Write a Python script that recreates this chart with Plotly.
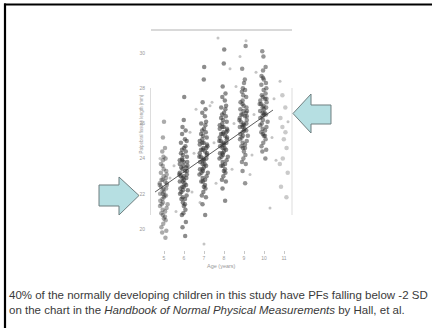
import plotly.graph_objects as go

# ---------------- data ----------------
ages = [5, 6, 7, 8, 9, 10, 11]
pf_age5 = [22.1, 21.4, 23.0, 20.6, 22.8, 24.1, 21.9, 22.5, 19.8, 23.4, 22.0, 21.2, 20.9, 23.7, 22.6,
           21.7, 24.6, 22.3, 20.3, 21.5, 23.1, 22.9, 19.5, 21.0, 22.4, 25.2, 21.8, 23.3, 20.7, 22.2,
           24.0, 21.3, 22.7, 20.1, 23.6, 21.6, 22.0, 26.1, 20.5, 22.5, 23.9, 21.1, 22.8, 19.9, 21.9,
           24.4, 22.3, 20.8, 23.2, 21.4, 22.6]
pf_age6 = [23.1, 22.4, 24.0, 21.7, 23.8, 25.1, 22.9, 23.5, 20.8, 24.4, 23.0, 22.2, 21.9, 24.7, 23.6,
           22.7, 25.6, 23.3, 21.3, 22.5, 24.1, 23.9, 20.4, 22.0, 23.4, 26.2, 22.8, 24.3, 21.7, 23.2,
           25.0, 22.3, 23.7, 21.1, 24.6, 22.6, 23.0, 27.5, 21.5, 23.5, 24.9, 22.1, 23.8, 20.9, 22.9,
           25.4, 23.3, 21.8, 24.2, 22.4, 23.6, 19.6, 23.1, 22.7, 24.5, 21.4, 23.9, 22.2, 25.8, 20.1]
pf_age7 = [24.1, 23.4, 25.0, 22.7, 24.8, 26.1, 23.9, 24.5, 21.8, 25.4, 24.0, 23.2, 22.9, 25.7, 24.6,
           23.7, 26.6, 24.3, 22.3, 23.5, 25.1, 24.9, 21.4, 23.0, 24.4, 27.2, 23.8, 25.3, 22.7, 24.2,
           26.0, 23.3, 24.7, 22.1, 25.6, 23.6, 24.0, 28.5, 22.5, 24.5, 25.9, 23.1, 24.8, 21.9, 23.9,
           26.4, 24.3, 22.8, 25.2, 23.4, 24.6, 20.8, 24.1, 23.7, 25.5, 22.4, 24.9, 23.2, 26.8, 29.2]
pf_age8 = [25.0, 24.3, 25.9, 23.6, 25.7, 27.0, 24.8, 25.4, 22.7, 26.3, 24.9, 24.1, 23.8, 26.6, 25.5,
           24.6, 27.5, 25.2, 23.2, 24.4, 26.0, 25.8, 22.3, 23.9, 25.3, 28.1, 24.7, 26.2, 23.6, 25.1,
           26.9, 24.2, 25.6, 23.0, 26.5, 24.5, 24.9, 29.4, 23.4, 25.4, 26.8, 24.0, 25.7, 22.8, 24.8,
           27.3, 25.2, 23.7, 26.1, 24.3, 25.5, 21.6, 25.0, 24.6, 26.4, 23.3, 25.8, 24.1, 27.7, 30.2]
pf_age9 = [26.0, 25.3, 26.9, 24.6, 26.7, 28.0, 25.8, 26.4, 23.7, 27.3, 25.9, 25.1, 24.8, 27.6, 26.5,
           25.6, 28.5, 26.2, 24.2, 25.4, 27.0, 26.8, 23.3, 24.9, 26.3, 29.1, 25.7, 27.2, 24.6, 26.1,
           27.9, 25.2, 26.6, 24.0, 27.5, 25.5, 25.9, 30.4, 24.4, 26.4, 27.8, 25.0, 26.7, 23.8, 25.8,
           28.3, 26.2, 24.7, 27.1, 25.3, 26.5, 22.6, 26.0, 25.6]
pf_age10 = [26.7, 26.0, 27.6, 25.3, 27.4, 28.7, 26.5, 27.1, 24.4, 28.0, 26.6, 25.8, 25.5, 28.3, 27.2,
            26.3, 29.2, 26.9, 24.9, 26.1, 27.7, 27.5, 24.0, 25.6, 27.0, 29.8, 26.4, 27.9, 25.3, 26.8,
            28.6, 25.9, 27.3, 24.7, 28.2, 26.2, 26.6, 30.1, 25.1, 27.1, 28.5, 25.7, 27.4, 24.5, 26.5,
            29.0, 26.9, 25.4]
pf_age11 = [25.8, 24.6, 26.9, 23.2, 25.1, 27.6, 22.4, 24.0, 26.3, 23.7, 25.5, 21.8]
pf_by_age = [pf_age5, pf_age6, pf_age7, pf_age8, pf_age9, pf_age10, pf_age11]
col_alpha = [0.40, 0.55, 0.55, 0.55, 0.50, 0.50, 0.25]

# scattered children whose ages fall between the year columns
extra_age = [5.5, 5.6, 6.5, 6.4, 6.6, 7.5, 7.4, 7.6, 8.5, 8.4, 8.6, 9.5, 9.4, 9.6, 10.5, 10.4, 10.6,
             6.3, 7.3, 8.3, 9.3, 10.3, 7.7, 9.1, 7.0, 4.8, 5.3, 10.8, 11.2, 6.8, 8.8]
extra_pf = [23.6, 21.0, 24.3, 22.1, 26.8, 24.9, 27.2, 22.6, 26.0, 23.4, 28.1, 26.5, 24.2, 28.9, 27.4,
            25.2, 23.9, 25.5, 27.0, 29.1, 23.1, 21.2, 30.85, 30.7, 19.15, 24.0, 22.9, 28.4, 26.1, 21.5,
            29.8]

trend_age = [4.55, 10.45]
trend_pf = [22.10, 26.76]

tick_ages = [5, 6, 7, 8, 9, 10, 11]
tick_pf = [20, 22, 24, 26, 28, 30]

caption1 = "40% of the normally developing children in this study have PFs falling below -2 SD"
caption2 = "on the chart in the <i>Handbook of Normal Physical Measurements</i> by Hall, et al."

# ---------------- figure ----------------
W, H = 432, 328
def px(x):
    return x / W
def py(y):
    return 1 - y / H

fig = go.Figure()

for age, vals, a in zip(ages, pf_by_age, col_alpha):
    fig.add_trace(go.Box(
        y=vals, x0=age, boxpoints="all", jitter=1, pointpos=0, width=0.5,
        fillcolor="rgba(0,0,0,0)", line=dict(width=0, color="rgba(0,0,0,0)"),
        whiskerwidth=0,
        marker=dict(size=4.5, color=f"rgba(45,45,45,{a})"),
        showlegend=False, hoveron="points"))

fig.add_trace(go.Scatter(x=extra_age, y=extra_pf, mode="markers",
                         marker=dict(size=3, color="rgba(60,60,60,0.30)"),
                         showlegend=False))

fig.add_trace(go.Scatter(x=trend_age, y=trend_pf, mode="lines",
                         line=dict(color="#333333", width=0.8), showlegend=False))

fig.update_layout(
    width=W, height=H, autosize=False,
    margin=dict(l=0, r=0, t=0, b=0),
    paper_bgcolor="white", plot_bgcolor="white",
    xaxis=dict(domain=[px(150), px(292)], range=[4.3, 11.4],
               showgrid=False, zeroline=False, showline=False,
               tickvals=tick_ages, ticks="outside", ticklen=3, tickcolor="#c8c8c8",
               tickfont=dict(size=5, color="#9a9a9a", family="Liberation Sans")),
    yaxis=dict(domain=[py(250), py(30)], range=[18.807, 31.307],
               showgrid=False, zeroline=False, showline=False,
               tickvals=tick_pf, ticks="outside", ticklen=3, tickcolor="rgba(0,0,0,0)",
               tickfont=dict(size=5, color="#9a9a9a", family="Liberation Sans")),
    font=dict(family="Liberation Sans"),
)

shapes = []
# slide border (top and left edges are visible)
shapes.append(dict(type="line", xref="paper", yref="paper", x0=px(4), x1=1,
                   y0=py(4.5), y1=py(4.5), line=dict(color="black", width=2.2), layer="above"))
shapes.append(dict(type="line", xref="paper", yref="paper", x0=px(5), x1=px(5),
                   y0=py(3.5), y1=0, line=dict(color="black", width=2.2), layer="above"))
# scanned frame remnants
shapes.append(dict(type="line", xref="paper", yref="paper", x0=px(151), x1=px(292),
                   y0=py(30), y1=py(30), line=dict(color="#d9d9d9", width=2)))
shapes.append(dict(type="line", xref="paper", yref="paper", x0=px(150.5), x1=px(150.5),
                   y0=py(88), y1=py(215), line=dict(color="#dddddd", width=1)))
shapes.append(dict(type="line", xref="paper", yref="paper", x0=px(292), x1=px(292),
                   y0=py(88), y1=py(215), line=dict(color="#dddddd", width=1)))

def arrow_path(pts):
    return "M " + " L ".join(f"{px(x):.5f},{py(y):.5f}" for x, y in pts) + " Z"

right_arrow = [(293, 113.5), (311, 94), (311, 105), (331, 105), (331, 124), (311, 124), (311, 133)]
left_arrow = [(99, 185), (119, 185), (119, 177), (139, 195.5), (119, 215), (119, 206), (99, 206)]
for pts in (right_arrow, left_arrow):
    shapes.append(dict(type="path", xref="paper", yref="paper", path=arrow_path(pts),
                       fillcolor="#b6dfe2", line=dict(color="#6f7f80", width=1), layer="above"))
fig.update_layout(shapes=shapes)

ann = []
ann.append(dict(text="Palpebral fissure length (mm)", textangle=-90, x=px(136), y=py(124),
                xref="paper", yref="paper", showarrow=False,
                font=dict(size=4.5, color="#9a9a9a")))
ann.append(dict(text="Age (years)", x=px(221), y=py(271), xref="paper", yref="paper",
                showarrow=False, font=dict(size=5.5, color="#999999")))
ann.append(dict(text=caption1, x=px(7), y=py(295), xref="paper", yref="paper",
                xanchor="left", yanchor="middle", showarrow=False,
                font=dict(size=11.5, color="#3a3a3a", family="Liberation Sans")))
ann.append(dict(text=caption2, x=px(7), y=py(310), xref="paper", yref="paper",
                xanchor="left", yanchor="middle", showarrow=False,
                font=dict(size=11.5, color="#3a3a3a", family="Liberation Sans")))
fig.update_layout(annotations=ann)

fig.write_html("out.html", config={"displayModeBar": False},
               post_script="document.body.style.margin='0';document.body.style.overflow='hidden';")
